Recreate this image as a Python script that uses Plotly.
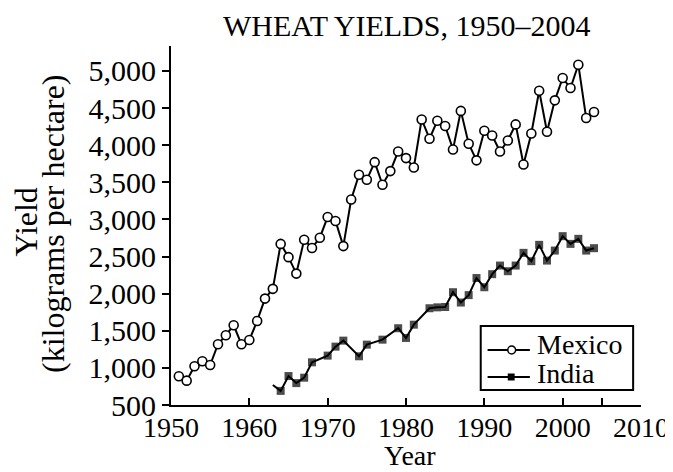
import plotly.graph_objects as go

# ---- data ----
mexico_years = list(range(1951, 2005))
mexico_yield = [887, 828, 1022, 1089, 1039, 1318, 1440, 1574, 1318, 1376,
                1632, 1933, 2064, 2670, 2491, 2270, 2726, 2614, 2753, 3032,
                2978, 2640, 3268, 3600, 3533, 3771, 3466, 3650, 3914, 3825,
                3699, 4346, 4086, 4329, 4257, 3942, 4461, 4018, 3795, 4194,
                4130, 3914, 4063, 4279, 3739, 4157, 4733, 4180, 4603, 4904,
                4769, 5083, 4365, 4446]

india_years = [1963, 1964, 1965, 1966, 1967, 1968, 1970, 1971, 1972, 1974,
               1975, 1977, 1979, 1980, 1981, 1983, 1984, 1985, 1986, 1987,
               1988, 1989, 1990, 1991, 1992, 1993, 1994, 1995, 1996, 1997,
               1998, 1999, 2000, 2001, 2002, 2003, 2004]
india_yield = [770, 690, 890, 795, 868, 1075, 1165, 1286, 1367, 1156,
               1313, 1380, 1534, 1403, 1582, 1803, 1815, 1820, 2019, 1880,
               1980, 2210, 2086, 2262, 2378, 2302, 2378, 2549, 2437, 2657,
               2445, 2580, 2774, 2670, 2738, 2580, 2612]

series_names = ["Mexico", "India"]
x_tick_vals = [1950, 1960, 1970, 1980, 1990, 2000, 2005, 2010]
x_tick_text = ["1950", "1960", "1970", "1980", "1990", "2000", "", "2010"]
y_tick_vals = [500, 1000, 1500, 2000, 2500, 3000, 3500, 4000, 4500, 5000]

FONT = "Liberation Serif, Times New Roman, serif"
W, H = 673, 472
L, R, T, B = 163, 32, 38, 75
PW, PH = W - L - R, H - T - B


def px(x):
    return (x - L) / PW


def py(y):
    return (H - B - y) / PH


india_sizes = [0] + [8] * (len(india_years) - 1)

fig = go.Figure()
fig.add_trace(go.Scatter(
    x=mexico_years, y=mexico_yield, name=series_names[0], mode="lines+markers",
    line=dict(color="black", width=2),
    marker=dict(symbol="circle", size=9, color="white",
                line=dict(color="black", width=1.6)),
    showlegend=False,
))
fig.add_trace(go.Scatter(
    x=india_years, y=india_yield, name=series_names[1], mode="lines+markers",
    line=dict(color="black", width=2),
    marker=dict(symbol="square", size=india_sizes, color="black",
                line=dict(color="black", width=0)),
    showlegend=False,
))

# legend box drawn in the plot's paper space
shapes = [
    dict(type="rect", xref="paper", yref="paper", x0=px(478), x1=px(633),
         y0=py(382), y1=py(318), line=dict(color="black", width=2),
         fillcolor="white", layer="above"),
    dict(type="line", xref="paper", yref="paper", x0=px(485), x1=px(528),
         y0=py(342), y1=py(342), line=dict(color="black", width=2), layer="above"),
    dict(type="circle", xref="paper", yref="paper", x0=px(505.5), x1=px(513.5),
         y0=py(346), y1=py(338), line=dict(color="black", width=1.5),
         fillcolor="white", layer="above"),
    dict(type="line", xref="paper", yref="paper", x0=px(485), x1=px(528),
         y0=py(369), y1=py(369), line=dict(color="black", width=2), layer="above"),
    dict(type="rect", xref="paper", yref="paper", x0=px(505.5), x1=px(512.5),
         y0=py(372.5), y1=py(365.5), line=dict(color="black", width=0),
         fillcolor="black", layer="above"),
]

yrange = [500, 5335]
fig.update_layout(
    width=W, height=H,
    margin=dict(l=L, r=R, t=T, b=B),
    paper_bgcolor="white", plot_bgcolor="white",
    font=dict(family=FONT, size=28, color="black"),
    xaxis=dict(range=[1950, 2010], tickvals=x_tick_vals, ticktext=x_tick_text,
               ticks="inside", ticklen=7, tickwidth=1.5, tickcolor="black",
               showline=True, linecolor="black", linewidth=2,
               showgrid=False, zeroline=False, ticklabelstandoff=-4,
               tickfont=dict(family=FONT, size=28, color="black")),
    yaxis=dict(range=yrange, tickvals=y_tick_vals, tickformat=",d",
               ticks="outside", ticklen=7, tickwidth=1.5, tickcolor="black",
               showline=True, linecolor="black", linewidth=2,
               showgrid=False, zeroline=False,
               tickfont=dict(family=FONT, size=30, color="black")),
    yaxis2=dict(range=yrange, tickvals=y_tick_vals, overlaying="y", side="left",
                ticks="inside", ticklen=7, tickwidth=1.5, tickcolor="black",
                showticklabels=False, showline=False, showgrid=False,
                zeroline=False),
    showlegend=False,
    shapes=shapes,
    annotations=[
        dict(text="WHEAT YIELDS, 1950\u20132004", xref="paper", yref="paper",
             x=px(402), y=py(0), xanchor="center", yanchor="top",
             showarrow=False, borderpad=0,
             font=dict(family=FONT, size=30, color="black")),
        dict(text="Yield", textangle=-90, xref="paper", yref="paper",
             x=px(16), y=py(214), xanchor="center",
             yanchor="middle", showarrow=False,
             font=dict(family=FONT, size=32, color="black")),
        dict(text="(kilograms per hectare)", textangle=-90, xref="paper",
             yref="paper", x=px(43), y=py(216),
             xanchor="center", yanchor="middle", showarrow=False,
             font=dict(family=FONT, size=32, color="black")),
        dict(text="Year", xref="paper", yref="paper", x=px(406), y=py(447),
             xanchor="center", yanchor="middle", showarrow=False,
             font=dict(family=FONT, size=28, color="black")),
        dict(text=series_names[0], xref="paper", yref="paper", x=px(533),
             y=py(336), xanchor="left", yanchor="middle", showarrow=False,
             font=dict(family=FONT, size=28, color="black")),
        dict(text=series_names[1], xref="paper", yref="paper", x=px(533),
             y=py(365), xanchor="left", yanchor="middle", showarrow=False,
             font=dict(family=FONT, size=28, color="black")),
    ],
)

fig.write_html("out.html")
